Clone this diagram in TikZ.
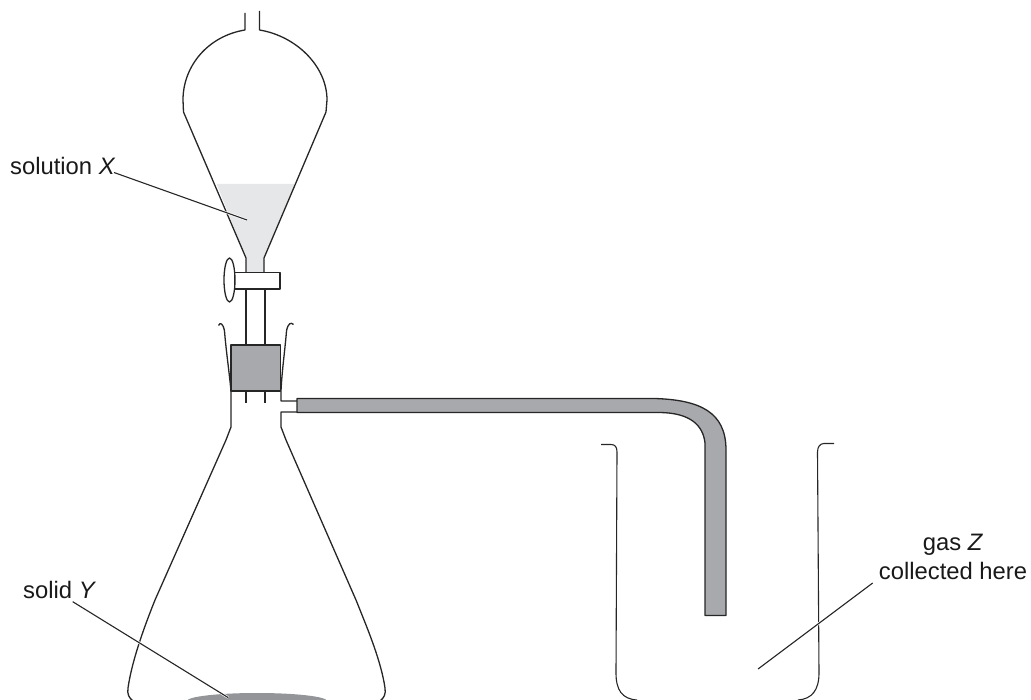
\documentclass[tikz,border=0pt]{standalone}
\usepackage{fontspec}
\setmainfont{Liberation Sans}
\usetikzlibrary{positioning}
\definecolor{liquidgrey}{HTML}{E6E7E8}
\definecolor{stopgrey}{HTML}{A7A9AC}
\definecolor{solidgrey}{HTML}{939598}
\tikzset{
  glass/.style={draw=black!85, line width=1.3pt, line join=round},
  thin glass/.style={draw=black!85, line width=1.1pt},
  lbl/.style={font=\fontsize{23.8}{29}\selectfont, inner sep=0pt, align=center, text=black!90},
  leader/.style={draw=black!85, line width=1.1pt, preaction={draw=white, line width=2.4pt}},
}
\begin{document}
\begin{tikzpicture}[x=1pt,y=-1pt]
  \useasboundingbox (0,0) rectangle (1031,700);
  \begin{scope}
    \clip (0,0) rectangle (1031,700);
    \fill[solidgrey] (257,701) ellipse (70 and 8);
    \fill[liquidgrey] (216.7,184) -- (295,184) -- (264,258) -- (264,273) -- (246,273) -- (246,258) -- cycle;
    % funnel
    \draw[glass] (245,13) -- (245,30) .. controls (208,36) and (183,66) .. (183,100) -- (183.5,112) -- (246,258) -- (246,273);
    \draw[glass] (259.5,11) -- (259.5,30) .. controls (296,36) and (327,66) .. (327,100) -- (326,112) -- (264,258) -- (264,273);
    \draw[glass, fill=white] (234.5,272.5) rectangle (280,289);
    \draw[glass] (229.5,280) ellipse (5.5 and 22);
    \draw[glass] (246,289) -- (246,345) (265,289) -- (265,345);
    \draw[glass] (246,391) -- (246,403) (265,391) -- (265,403);
    % stopper and flask
    \draw[glass, fill=stopgrey] (231,345) rectangle (280.5,391);
    \draw[glass] (218.5,325.5) .. controls (220,322) and (223,323) .. (224.5,331) .. controls (226,350) and (229,370) .. (231,391)
      -- (231,427) -- (226,440) -- (155,600) .. controls (145,625) and (132,660) .. (128,688) .. controls (127,694) and (129,698) .. (133,701);
    \draw[glass] (293.5,324.5) .. controls (291,322) and (288,323) .. (286.5,331) .. controls (285,350) and (282,370) .. (281,391)
      -- (281,401) -- (297,401);
    \draw[glass] (297,412) -- (281,412) -- (281,427) -- (286,440) -- (356,600) .. controls (366,625) and (381,660) .. (385,688) .. controls (386,694) and (384,698) .. (380,701);
    % delivery tube
    \draw[glass, fill=stopgrey] (297,398.5) -- (655,398.5) .. controls (700,400) and (726,412) .. (726,450)
      -- (726,615.5) -- (705,615.5) -- (705,443) .. controls (703,425) and (690,413) .. (660,412.5) -- (297,412.5) -- cycle;
    % beaker
    \draw[thin glass] (601,444.5) -- (611,444.5) .. controls (615,444.5) and (617,447) .. (617,452) -- (616,673)
      .. controls (616,690) and (622,699) .. (637,700);
    \draw[thin glass] (834,443.5) -- (824,443.5) .. controls (820,443.5) and (817.5,447) .. (817.5,452) -- (819,673)
      .. controls (819,690) and (812,699) .. (798,700);
  \end{scope}
  \node[lbl, anchor=base west] (solX) at (10,175) {solution \textit{X}};
  \node[lbl, anchor=base west] (solY) at (23,598) {solid \textit{Y}};
  \node[lbl, anchor=base] (gasZ) at (953,579) {gas \textit{Z}\\collected here};
  \coordinate (tipX) at (247,220);
  \coordinate (tipY) at (228,697.5);
  \coordinate (tipZ) at (758,669);
  \coordinate (tailX) at (114,172.5);
  \coordinate (tailY) at (72.7,601.7);
  \coordinate (tailZ) at (872.7,583);
  \draw[leader] (tailX) -- (tipX);
  \draw[leader] (tailY) -- (tipY);
  \draw[leader] (tailZ) -- (tipZ);
\end{tikzpicture}
\end{document}
